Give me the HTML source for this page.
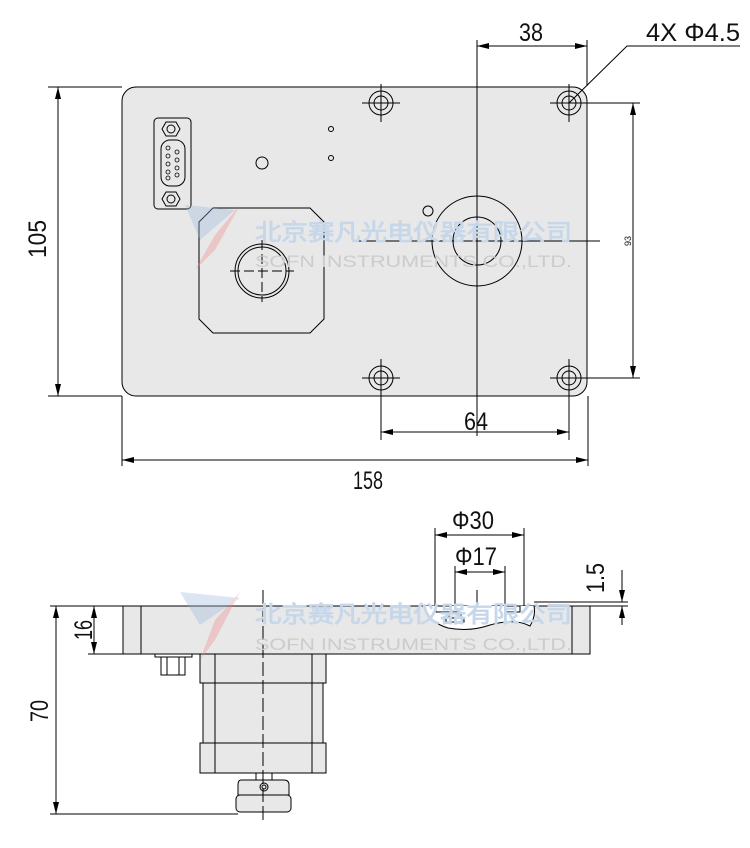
<!DOCTYPE html>
<html><head><meta charset="utf-8"><style>
html,body{margin:0;padding:0;background:#fff;}
svg{display:block;}
text{font-family:"Liberation Sans Narrow","Liberation Sans",sans-serif;fill:#111;}
</style></head><body>
<svg width="750" height="848" viewBox="0 0 750 848" xmlns="http://www.w3.org/2000/svg">
<defs>
<marker id="a" viewBox="0 0 12 6" refX="12" refY="3" markerWidth="12" markerHeight="6" orient="auto-start-reverse" markerUnits="userSpaceOnUse"><path d="M0,0L12,3L0,6z" fill="#000"/></marker>
</defs>
<g stroke="#000" stroke-width="1" fill="none">
<rect x="122" y="87" width="465" height="309" rx="14" fill="#e8e8e8"/>
<rect x="154" y="118" width="37" height="91" rx="4"/>
<rect x="161" y="140" width="24" height="46" rx="9"/>
<polygon points="166,122 176,122 180,129 176,136 166,136 162,129"/><circle cx="171" cy="129" r="4"/>
<polygon points="166,192 176,192 180,199 176,206 166,206 162,199"/><circle cx="171" cy="199" r="4"/>
<g stroke-width="0.8"><circle cx="168" cy="148" r="2"/><circle cx="168" cy="156" r="2"/><circle cx="168" cy="164" r="2"/><circle cx="168" cy="172" r="2"/><circle cx="168" cy="178" r="2"/><circle cx="177" cy="152" r="2"/><circle cx="177" cy="160" r="2"/><circle cx="177" cy="168" r="2"/><circle cx="177" cy="175" r="2"/></g>
<circle cx="262" cy="163" r="6"/><circle cx="331" cy="129" r="2.5"/><circle cx="331" cy="158" r="2.5"/><circle cx="428" cy="211" r="5"/>
<polygon points="213,208 310,208 324,222 324,319 310,333 213,333 199,319 199,222"/>
<circle cx="262" cy="271" r="27"/><circle cx="262" cy="271" r="24"/>
<path d="M230,271H294M262,240V302" stroke-dasharray="10,4"/>
<circle cx="477" cy="241" r="45"/><circle cx="477" cy="241" r="24"/>
<g>
<circle cx="381" cy="103" r="12"/><circle cx="381" cy="103" r="7"/><path d="M362,103H400M381,84V122"/>
<circle cx="569" cy="103" r="12"/><circle cx="569" cy="103" r="7"/><path d="M550,103H588M569,84V122"/>
<circle cx="381" cy="378" r="12"/><circle cx="381" cy="378" r="7"/><path d="M362,378H400M381,359V440"/>
<circle cx="569" cy="378" r="12"/><circle cx="569" cy="378" r="7"/><path d="M550,378H640M569,359V440"/>
</g>
<path d="M477,40V436M352,241H600M569,103H640"/>
<path d="M48,87H122M48,396H122M122,396V466M588,396V466M587,40V86"/>
<path d="M58,87V396" marker-start="url(#a)" marker-end="url(#a)"/>
<path d="M122,460H588" marker-start="url(#a)" marker-end="url(#a)"/>
<path d="M477,46H587" marker-start="url(#a)" marker-end="url(#a)"/>
<path d="M381,432H569" marker-start="url(#a)" marker-end="url(#a)"/>
<path d="M633,103V378" marker-start="url(#a)" marker-end="url(#a)"/>
<path d="M569,103L627,46H740"/>
<rect x="123" y="606" width="467" height="48" fill="#e8e8e8"/>
<path d="M141,606V654M572,606V654"/>
<path d="M425,606Q428,622 448,628Q470,632 490,625Q515,618 530,626Q536,616 534,606" fill="#fff"/>
<rect x="436" y="606" width="15" height="6"/><rect x="505" y="606" width="15" height="6"/>
<rect x="449" y="612" width="12" height="6" fill="#e8e8e8"/><rect x="446" y="618" width="18" height="4"/>
<rect x="155" y="654" width="37" height="3"/><rect x="161" y="657" width="24" height="18"/><path d="M167,657V675M179,657V675"/>
<rect x="200" y="654" width="126" height="29" fill="#e8e8e8"/>
<rect x="203" y="683" width="120" height="60" fill="#e8e8e8"/>
<rect x="200" y="743" width="126" height="30" fill="#e8e8e8"/>
<path d="M215,654V773M312,654V773"/>
<rect x="256" y="773" width="16" height="7"/>
<path d="M241,780H284Q289,780 289,785V795H238V785Q238,780 241,780Z" fill="#e8e8e8"/>
<rect x="236" y="795" width="55" height="17" rx="4" fill="#e8e8e8"/>
<circle cx="264" cy="787" r="4"/><circle cx="264" cy="787" r="2"/>
<path d="M263,590V823" stroke-dasharray="14,4"/>
<path d="M50,606H123M50,814H238M88,654H123"/>
<path d="M56,606V814" marker-start="url(#a)" marker-end="url(#a)"/>
<path d="M94,606V654" marker-start="url(#a)" marker-end="url(#a)"/>
<path d="M435,528V606M524,528V606M455,566V606M505,566V606M477,590V606"/>
<path d="M435,535H524" marker-start="url(#a)" marker-end="url(#a)"/>
<path d="M455,572H505" marker-start="url(#a)" marker-end="url(#a)"/>
<path d="M534,602H628M590,606H628"/>
<path d="M622,570V602" marker-end="url(#a)"/><path d="M622,625V606" marker-end="url(#a)"/>
</g>
<g opacity="0.35">
<polygon points="185,205 235,210 200,240" fill="#9db9dc"/><polygon points="240,205 215,250 195,270 215,235" fill="#e88"/>
<polygon points="180,592 240,598 200,625" fill="#9db9dc"/><polygon points="240,592 215,640 200,660 215,620" fill="#e88"/>
</g>
<g style="font-family:'Liberation Sans','Noto Sans CJK SC',sans-serif">
<text x="255" y="240" font-size="23" font-weight="bold" textLength="317" lengthAdjust="spacingAndGlyphs" style="fill:#c7d7ea">北京赛凡光电仪器有限公司</text>
<text x="255" y="267" font-size="17" textLength="317" lengthAdjust="spacingAndGlyphs" style="fill:#cccccc">SOFN INSTRUMENTS CO.,LTD.</text>
<text x="255" y="622" font-size="23" font-weight="bold" textLength="317" lengthAdjust="spacingAndGlyphs" style="fill:#c7d7ea">北京赛凡光电仪器有限公司</text>
<text x="255" y="650" font-size="17" textLength="317" lengthAdjust="spacingAndGlyphs" style="fill:#cccccc">SOFN INSTRUMENTS CO.,LTD.</text>
</g>
<g font-size="25">
<text x="28" y="258" textLength="38" lengthAdjust="spacingAndGlyphs" transform="rotate(-90 28 258)" dy="18">105</text>
<text x="353" y="489" textLength="30" lengthAdjust="spacingAndGlyphs">158</text>
<text x="519" y="41" textLength="24" lengthAdjust="spacingAndGlyphs">38</text>
<text x="464" y="430" textLength="24" lengthAdjust="spacingAndGlyphs">64</text>
<text x="646" y="41" textLength="94" lengthAdjust="spacingAndGlyphs">4X Φ4.5</text>
<text x="452" y="529" textLength="42" lengthAdjust="spacingAndGlyphs">Φ30</text>
<text x="455" y="565" textLength="42" lengthAdjust="spacingAndGlyphs">Φ17</text>
<text x="74" y="640" textLength="20" lengthAdjust="spacingAndGlyphs" transform="rotate(-90 74 640)" dy="18">16</text>
<text x="30" y="722" textLength="22" lengthAdjust="spacingAndGlyphs" transform="rotate(-90 30 722)" dy="18">70</text>
<text x="586" y="593" textLength="30" lengthAdjust="spacingAndGlyphs" transform="rotate(-90 586 593)" dy="18">1.5</text>
</g>
<text x="628" y="241" font-size="9" text-anchor="middle" transform="rotate(-90 628 241)" dy="3">93</text>
</svg>
</body></html>
